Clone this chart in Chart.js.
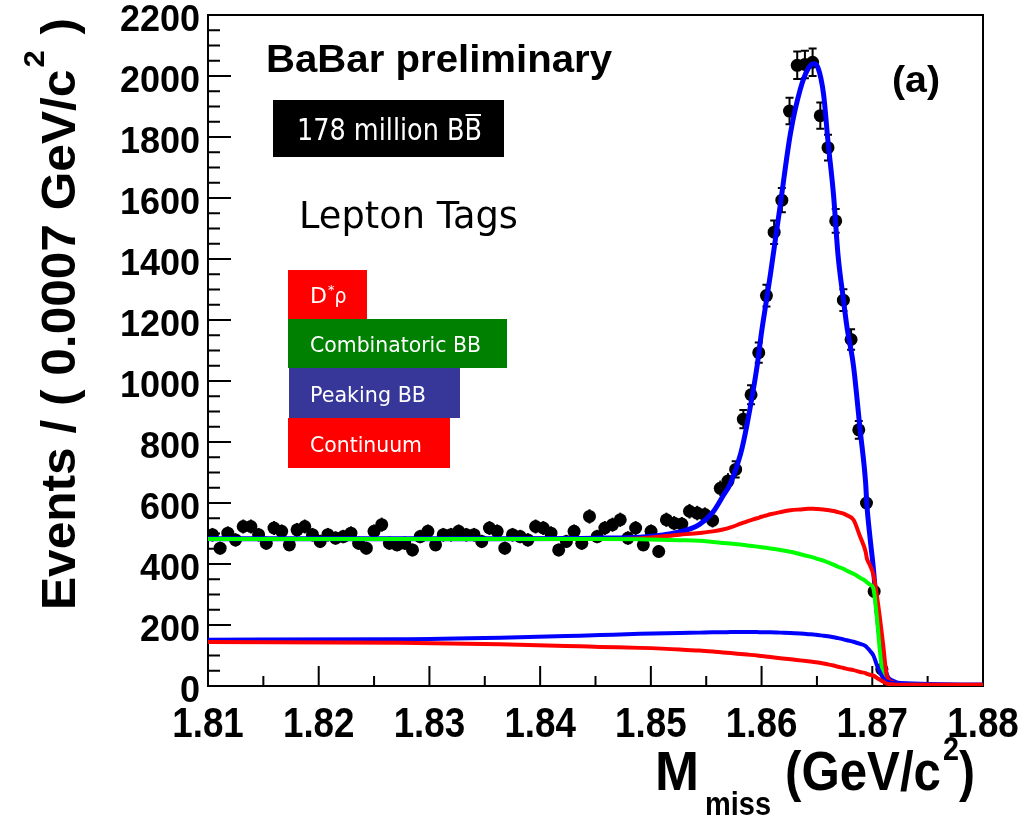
<!DOCTYPE html>
<html>
<head>
<meta charset="utf-8">
<script src="https://cdn.jsdelivr.net/npm/chart.js@4.4.1/dist/chart.umd.min.js"></script>
<style>
body { margin: 0; background: #fff; }
#wrap { width: 1032px; height: 821px; }
</style>
</head>
<body>
<div id="wrap"><canvas id="c" width="1032" height="821"></canvas></div>
<script>
// histogram bins: first centre and width in GeV/c^2
const binStart = 1.8104;
const binWidth = 0.000695;
const counts = [496,452,501,479,523,523,496,468,518,507,463,512,523,496,474,496,485,490,501,468,
  452,507,529,468,463,468,446,490,507,463,496,496,507,496,496,474,518,507,452,496,
  490,479,523,518,501,446,474,507,468,556,490,518,529,545,485,518,463,507,441,545,
  534,531,573,567,562,543,648,672,710,875,955,1093,1280,1488,1593,1885,2035,2038,2045,1870,
  1765,1525,1265,1136,840,600,310,55,3];

// fit components sampled along the mass axis
const curveX = [1.8100,1.8273,1.8364,1.8436,1.8454,1.8490,1.8526,1.8544,1.8556,1.8565,1.8572,1.8581,1.8587,1.8596,
  1.8600,1.8604,1.8608,1.8617,1.8626,1.8635,1.8642,1.8647,1.8651,1.8656,1.8660,1.8665,1.8669,1.8674,
  1.8677,1.8683,1.8689,1.8694,1.8695,1.8698,1.8701,1.8704,1.8707,1.8710,1.8713,1.8719,1.8725,1.8800];
const totalFit = [483,483,483,484,485,488,505,530,570,622,665,760,860,1050,1160,1255,1350,1580,1810,1957,2024,
  2040,2027,1940,1785,1610,1415,1265,1180,1050,840,665,600,485,385,255,155,85,35,15,8,3];
const dstarRho = [482,482,482,482,482,484,496,502,507,513,520,532,540,550,555,559,563,570,576,579,581,
  581,580,579,577,574,570,565,560,545,490,440,420,395,365,300,220,130,35,12,6,3];
const combBB = [482,482,482,482,482,481,478,476,472,469,467,464,461,457,455,453,451,446,440,432,426,
  421,416,411,405,398,391,384,378,368,355,344,340,333,320,230,111,23,12,8,5,3];
const peakBB = [152,153,158,165,167,171,174,175,176,176,177,177,177,177,176,176,176,175,174,172,170,
  169,167,165,163,160,157,153,150,145,138,131,127,115,100,70,45,25,15,10,7,3];
const continuum = [144,142,137,130,128,125,120,116,113,110,108,105,103,100,98,97,95,91,88,84,81,
  79,77,74,71,67,63,59,56,52,46,42,40,37,34,27,20,14,8,5,4,4];

const xTicks = [1.81, 1.82, 1.83, 1.84, 1.85, 1.86, 1.87, 1.88];
const yTicks = [0, 200, 400, 600, 800, 1000, 1200, 1400, 1600, 1800, 2000, 2200];

const legendItems = ["D*\u03c1", "Combinatoric BB", "Peaking BB", "Continuum"];

const HELV = '"Liberation Sans", Arial, sans-serif';
const TAHO = '"DejaVu Sans", Verdana, sans-serif';

function pts(ys) {
    return curveX.map((x, i) => ({x: x, y: ys[i]}));
}

// draw text squeezed/stretched horizontally to a target width
function fitText(ctx, txt, x, y, font, w, color) {
    ctx.font = font;
    let m = ctx.measureText(txt).width;
    let sx = w ? w / m : 1;
    ctx.save();
    ctx.fillStyle = color || "#000";
    ctx.textAlign = "left";
    ctx.textBaseline = "alphabetic";
    ctx.translate(x, y);
    ctx.scale(sx, 1);
    ctx.fillText(txt, 0, 0);
    ctx.restore();
    return m * sx;
}

const decor = {
    id: "decor",
    // frame and ticks go under the curves, like the original
    beforeDatasetsDraw(chart) {
        let ctx = chart.ctx, a = chart.chartArea;
        let xs = chart.scales.x, ys = chart.scales.y;
        ctx.save();
        ctx.strokeStyle = "#000";
        ctx.lineWidth = 2;
        ctx.strokeRect(a.left, a.top, a.right - a.left, a.bottom - a.top);
        ctx.beginPath();
        for (let v = 0; v <= 2200; v += 50) {
            let py = ys.getPixelForValue(v);
            let len = v % 200 === 0 ? 23 : 12;
            ctx.moveTo(a.left, py); ctx.lineTo(a.left + len, py);
        }
        for (let k = 0; k <= 14; k++) {
            let px = xs.getPixelForValue(1.81 + k * 0.005);
            let len = k % 2 === 0 ? 20 : 10;
            ctx.moveTo(px, a.bottom); ctx.lineTo(px, a.bottom - len);
        }
        ctx.stroke();
        ctx.restore();
    },
    afterDatasetDraw(chart, args) {
        if (args.index !== 0) return;
        let ctx = chart.ctx, xs = chart.scales.x, ys = chart.scales.y;
        ctx.save();
        ctx.strokeStyle = "#000";
        ctx.lineWidth = 2;
        counts.forEach((n, i) => {
            let e = Math.sqrt(n);
            let px = xs.getPixelForValue(binStart + i * binWidth);
            let top = ys.getPixelForValue(n + e), bot = ys.getPixelForValue(Math.max(n - e, 0));
            ctx.beginPath();
            ctx.moveTo(px, top); ctx.lineTo(px, bot);
            if (bot - top > 16) {
                ctx.moveTo(px - 4, top); ctx.lineTo(px + 4, top);
                ctx.moveTo(px - 4, bot); ctx.lineTo(px + 4, bot);
            }
            ctx.stroke();
        });
        ctx.restore();
    },
    afterDraw(chart) {
        let ctx = chart.ctx;
        let xs = chart.scales.x, ys = chart.scales.y;
        ctx.save();

        // tick labels
        ctx.fillStyle = "#000";
        ctx.font = "bold 36px " + HELV;
        ctx.textAlign = "right";
        yTicks.forEach(v => {
            ctx.fillText(String(v), 200, ys.getPixelForValue(v) + 16);
        });
        ctx.font = "bold 42px " + HELV;
        xTicks.forEach(v => {
            let px = xs.getPixelForValue(v);
            let t = v.toFixed(2);
            let w = ctx.measureText(t).width * 0.875;
            ctx.save();
            ctx.translate(px - w / 2, 737);
            ctx.scale(0.875, 1);
            ctx.textAlign = "left";
            ctx.fillText(t, 0, 0);
            ctx.restore();
        });

        // y title
        ctx.save();
        ctx.translate(75, 610);
        ctx.rotate(-Math.PI / 2);
        let f1 = "bold 48px " + HELV, f2 = "bold 30px " + HELV;
        ctx.font = f1;
        let pa = "Events / ( 0.0007 GeV/c";
        let wA = ctx.measureText(pa).width, wC = ctx.measureText(" )").width;
        ctx.font = f2;
        let wB = ctx.measureText("2").width + 4;
        ctx.scale(592 / (wA + wB + wC), 1);
        ctx.textAlign = "left";
        ctx.font = f1; ctx.fillText(pa, 0, 0);
        ctx.font = f2; ctx.fillText("2", wA + 2, -31);
        ctx.font = f1; ctx.fillText(" )", wA + wB, 0);
        ctx.restore();

        // x title
        let x = 655;
        x += fitText(ctx, "M", x, 790, "bold 56px " + HELV, 44);
        x += 6;
        x += fitText(ctx, "miss", x, 815, "bold 33px " + HELV, 66);
        x = 785;
        x += fitText(ctx, "(GeV/c", x, 790, "bold 56px " + HELV, 156);
        x += 2;
        x += fitText(ctx, "2", x, 760, "bold 34px " + HELV, 16);
        fitText(ctx, ")", x, 790, "bold 56px " + HELV, 16);

        // labels inside the frame
        fitText(ctx, "BaBar preliminary", 266, 72, "bold 38px " + HELV, 346);
        fitText(ctx, "(a)", 892, 92, "bold 37px " + HELV, 48);

        ctx.fillStyle = "#000";
        ctx.fillRect(273, 100, 231, 57);
        let wb = fitText(ctx, "178 million BB", 297, 140, "30px " + TAHO, 185, "#fff");
        ctx.font = "30px " + TAHO;
        let bw = ctx.measureText("B").width * (185 / ctx.measureText("178 million BB").width);
        ctx.strokeStyle = "#fff";
        ctx.lineWidth = 2;
        ctx.beginPath();
        ctx.moveTo(297 + wb - bw + 1, 115); ctx.lineTo(297 + wb - 1, 115);
        ctx.stroke();

        fitText(ctx, "Lepton Tags", 299, 228, "38px " + TAHO, 219);

        // legend boxes
        let boxes = [
            {c: "#ff0000", x: 288, y: 270, w: 79, h: 49, base: 303, tw: 0},
            {c: "#008000", x: 288, y: 319, w: 219, h: 49, base: 352, tw: 171},
            {c: "#373799", x: 289, y: 368, w: 171, h: 50, base: 402, tw: 116},
            {c: "#ff0000", x: 288, y: 418, w: 162, h: 50, base: 452, tw: 112}
        ];
        boxes.forEach((b, i) => {
            ctx.fillStyle = b.c;
            ctx.fillRect(b.x, b.y, b.w, b.h);
            if (i === 0) {
                let dx = 310;
                dx += fitText(ctx, legendItems[0][0], dx, b.base, "21px " + TAHO, 17, "#fff");
                dx += fitText(ctx, legendItems[0][1], dx + 1, b.base - 9, "13px " + TAHO, 0, "#fff") + 1;
                fitText(ctx, legendItems[0][2], dx, b.base, "21px " + TAHO, 12, "#fff");
            } else {
                fitText(ctx, legendItems[i], 310, b.base, "21px " + TAHO, b.tw, "#fff");
            }
        });
        ctx.restore();
    }
};

let lineSet = (label, ys, color, ord, w) => ({
    type: "line",
    label: label,
    data: pts(ys),
    borderColor: color,
    borderWidth: w,
    pointRadius: 0,
    fill: false,
    cubicInterpolationMode: "monotone",
    order: ord
});

new Chart(document.getElementById("c"), {
    type: "scatter",
    data: {
        datasets: [
            {
                label: "data",
                data: counts.map((n, i) => ({x: binStart + i * binWidth, y: n})),
                backgroundColor: "#000",
                borderWidth: 0,
                pointRadius: 6.5,
                order: 10
            },
            lineSet("total", totalFit, "#0000ff", 5, 5),
            lineSet("D*rho", dstarRho, "#ff0000", 4, 4),
            lineSet("Combinatoric BB", combBB, "#00ff00", 3, 4),
            lineSet("Peaking BB", peakBB, "#0000ff", 2, 4),
            lineSet("Continuum", continuum, "#ff0000", 1, 4)
        ]
    },
    options: {
        responsive: false,
        animation: false,
        events: [],
        layout: {padding: {left: 0, right: 49, top: 15, bottom: 0}},
        plugins: {legend: {display: false}, tooltip: {enabled: false}},
        scales: {
            x: {
                type: "linear", min: 1.81, max: 1.88,
                grid: {display: false}, border: {display: false},
                ticks: {display: false},
                afterFit: s => { s.height = 135; }
            },
            y: {
                type: "linear", min: 0, max: 2200,
                grid: {display: false}, border: {display: false},
                ticks: {display: false},
                afterFit: s => { s.width = 208; }
            }
        }
    },
    plugins: [decor]
});
</script>
</body>
</html>
